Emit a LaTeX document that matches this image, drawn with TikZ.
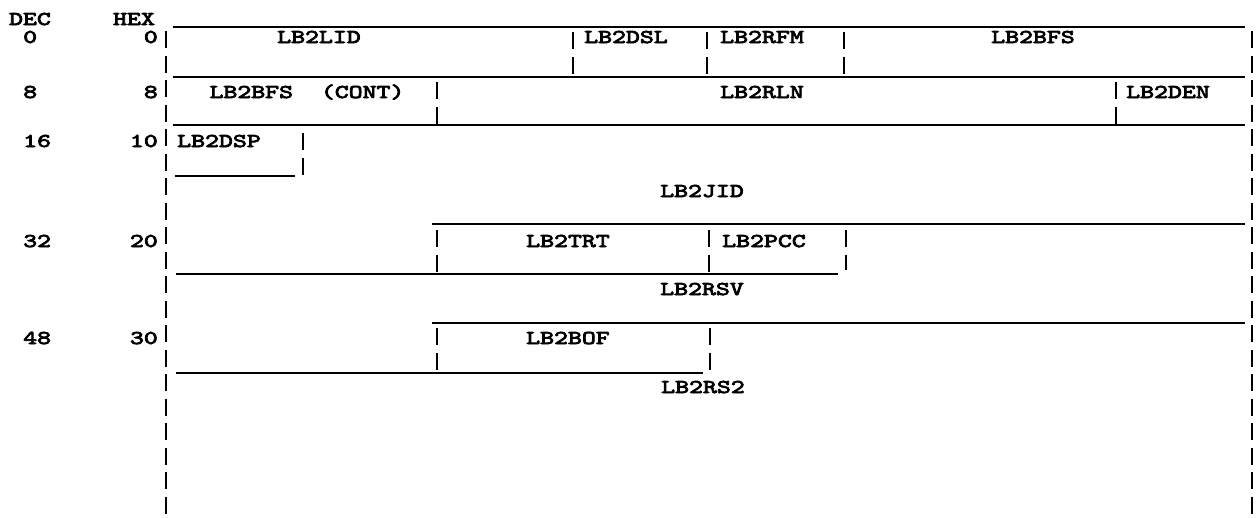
\documentclass[tikz,border=0pt]{standalone}
\usepackage{tikz}

\font\typew="[lmmono10-regular]:extend=1.36;embolden=4" at 19.5pt

\begin{document}
\begin{tikzpicture}[x=1pt, y=-1pt, font=\typew,
    fld/.style={anchor=base, inner sep=0pt},
    rule/.style={line width=1.7pt},
    sep/.style={line width=2.6pt, dash pattern=on 17pt off 7.5pt}]
    \useasboundingbox (0,0) rectangle (1258,517);
    % column heads and offsets
    \node[fld] (dec) at (30,25) {DEC};
    \node[fld] (hex) at (134,25) {HEX};
    \foreach \y/\d/\h in {43/0/0,98/8/8,147/16/10,247/32/20,344/48/30} {
      \node[fld, anchor=base west] (d\d) at (23,\y) {\d};
      \node[fld, anchor=base east] (h\h) at (158,\y) {\h};
    }
    % outer frame
    \draw[sep] (166,31) -- (166,517);
    \draw[sep] (1252,31) -- (1252,517);
    \foreach \y/\a/\b in {27/173/1245,77/173/1245,125/173/1245,176/175/295,
                          224/432/1245,274/176/838,323/432/1245,373/176/703}
      \draw[rule] (\a,\y) -- (\b,\y);
    % field boundaries
    \foreach \x/\a/\b in {573/32/77,707/32/77,844/32/77,437/82/125,1116/82/125,
                          303/133/177,437/230/274,709/230/274,846/230/270,
                          437/328/373,710/328/373}
      \draw[sep] (\x,\a) -- (\x,\b);
    % field names
    \node[fld] (lid) at (319,43) {LB2LID};
    \node[fld] (dsl) at (626,43) {LB2DSL};
    \node[fld] (rfm) at (762,43) {LB2RFM};
    \node[fld] (bfs) at (1033,43) {LB2BFS};
    \node[fld] (bfsc) at (307,98) {LB2BFS\ \ (CONT)};
    \node[fld] (rln) at (762,98) {LB2RLN};
    \node[fld] (den) at (1168,98) {LB2DEN};
    \node[fld] (dsp) at (219,147) {LB2DSP};
    \node[fld] (jid) at (702,197) {LB2JID};
    \node[fld] (trt) at (568,247) {LB2TRT};
    \node[fld] (pcc) at (764,247) {LB2PCC};
    \node[fld] (rsv) at (702,295) {LB2RSV};
    \node[fld] (bof) at (568,344) {LB2BOF};
    \node[fld] (rs2) at (703,393) {LB2RS2};
  \end{tikzpicture}
\end{document}
